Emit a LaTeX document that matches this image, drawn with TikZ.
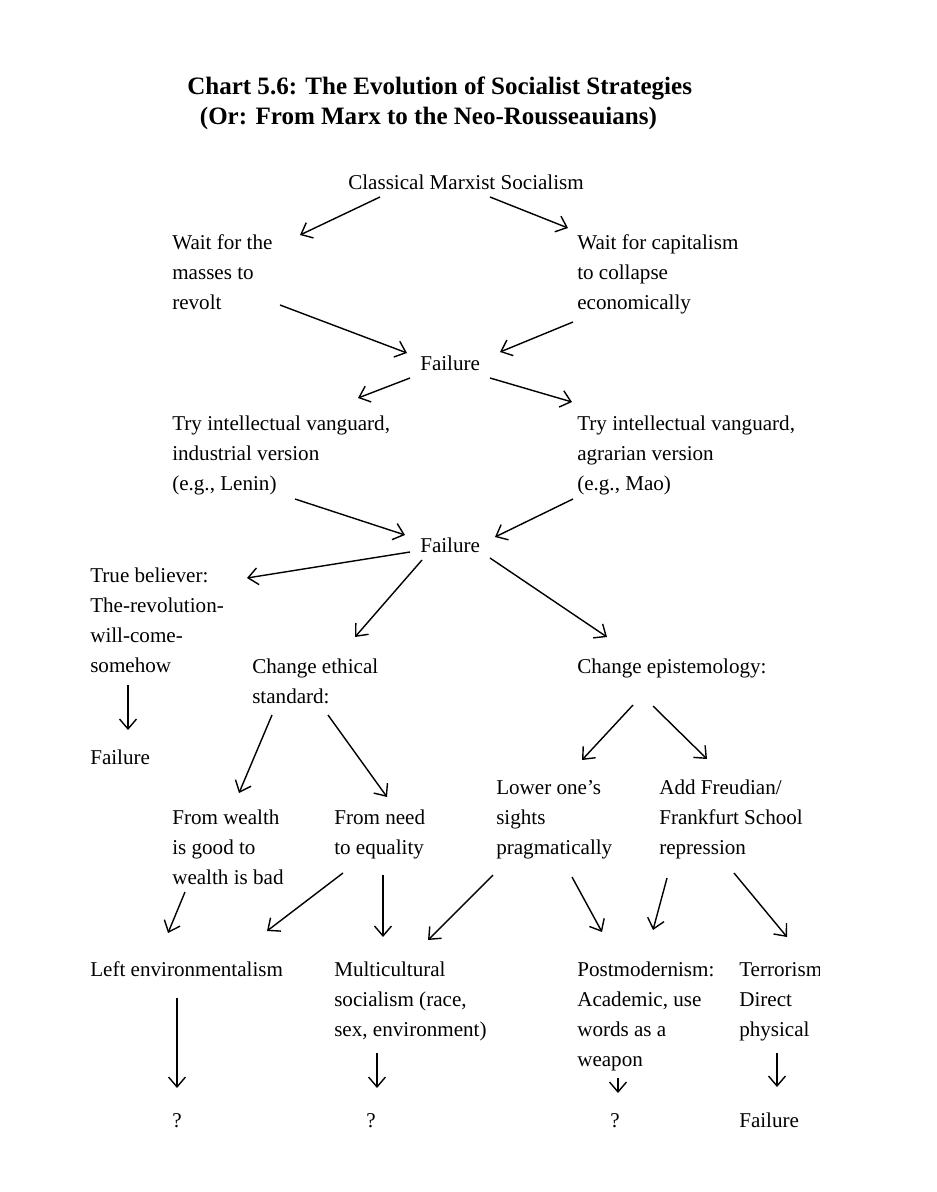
\documentclass[tikz,border=0pt]{standalone}
\usepackage{fontspec}
\setmainfont{Liberation Serif}
\usetikzlibrary{arrows.meta}
\newcommand{\txtlines}[1]{\begin{tabular}[t]{@{}l@{}}#1\end{tabular}}
\tikzset{
  txt/.style={anchor=base west, inner sep=0pt,
    font=\fontsize{15}{21.5}\selectfont},
  mid/.style={txt, anchor=base},
  ttl/.style={txt, font=\fontsize{17.8}{22}\selectfont\bfseries}
}
\begin{document}
\begin{tikzpicture}[x=0.025cm, y=-0.025cm]
      \useasboundingbox (0,0) rectangle (936,1192);
      \clip (0,0) rectangle (819,1192);
      \draw
        (187,94) node[ttl] (title){\txtlines{Chart 5.6: The Evolution of Socialist Strategies\\
          \hspace*{9pt}(Or: From Marx to the Neo-Rousseauians)}}
        (348,189) node[txt] (cms){Classical Marxist Socialism}
        (172,249) node[txt] (wm){\txtlines{Wait for the\\ masses to\\ revolt}}
        (577,249) node[txt] (wc){\txtlines{Wait for capitalism\\ to collapse\\ economically}}
        (420,370) node[txt] (f1){Failure}
        (172,430) node[txt] (tiv){\txtlines{Try intellectual vanguard,\\ industrial version\\ (e.g., Lenin)}}
        (577,430) node[txt] (tia){\txtlines{Try intellectual vanguard,\\ agrarian version\\ (e.g., Mao)}}
        (420,552) node[txt] (f2){Failure}
        (90,582) node[txt] (tb){\txtlines{True believer:\\ The-revolution-\\ will-come-\\ somehow}}
        (252,673) node[txt] (ces){\txtlines{Change ethical\\ standard:}}
        (577,673) node[txt] (cep){Change epistemology:}
        (90,764) node[txt] (f3){Failure}
        (496,794) node[txt] (low){\txtlines{Lower one's\\ sights\\ pragmatically}}
        (659,794) node[txt] (frd){\txtlines{Add Freudian/\\ Frankfurt School\\ repression}}
        (172,824) node[txt] (fw){\txtlines{From wealth\\ is good to\\ wealth is bad}}
        (334,824) node[txt] (fn){\txtlines{From need\\ to equality}}
        (90,976) node[txt] (le){Left environmentalism}
        (334,976) node[txt] (mc){\txtlines{Multicultural\\ socialism (race,\\ sex, environment)}}
        (577,976) node[txt] (pm){\txtlines{Postmodernism:\\ Academic, use\\ words as a\\ weapon}}
        (739,976) node[txt] (tr){\txtlines{Terrorism\\ Direct\\ physical}}
        (177,1127) node[mid] (q1){?}
        (371,1127) node[mid] (q2){?}
        (615,1127) node[mid] (q3){?}
        (739,1127) node[txt] (f4){Failure};
      \begin{scope}[line width=1pt, -{Straight Barb[length=7pt,width=12pt]}]
        \draw ([shift={(32,8)}]cms.base west) to ([shift={(128,-14)}]wm.base west);
        \draw ([shift={(142,8)}]cms.base west) to ([shift={(-9,-21)}]wc.base west);
        \draw ([shift={(108,56)}]wm.base west) to ([shift={(-13,-17)}]f1.base west);
        \draw ([shift={(-4,73)}]wc.base west) to ([shift={(80,-18)}]f1.base west);
        \draw ([shift={(-10,8)}]f1.base west) to ([shift={(186,-32)}]tiv.base west);
        \draw ([shift={(70,8)}]f1.base west) to ([shift={(-5,-28)}]tia.base west);
        \draw ([shift={(123,69)}]tiv.base west) to ([shift={(-15,-17)}]f2.base west);
        \draw ([shift={(-4,69)}]tia.base west) to ([shift={(75,-15)}]f2.base west);
        \draw ([shift={(-10,0)}]f2.base west) to ([shift={(157,-4)}]tb.base west);
        \draw ([shift={(2,8)}]f2.base west) to ([shift={(103,-36)}]ces.base west);
        \draw ([shift={(70,6)}]f2.base west) to ([shift={(30,-36)}]cep.base west);
        \draw ([shift={(38,103)}]tb.base west) to ([shift={(38,-34)}]f3.base west);
        \draw ([shift={(20,42)}]ces.base west) to ([shift={(67,-31)}]fw.base west);
        \draw ([shift={(76,42)}]ces.base west) to ([shift={(53,-27)}]fn.base west);
        \draw ([shift={(56,32)}]cep.base west) to ([shift={(86,-34)}]low.base west);
        \draw ([shift={(76,33)}]cep.base west) to ([shift={(48,-35)}]frd.base west);
        \draw ([shift={(13,68)}]fw.base west) to ([shift={(78,-43)}]le.base west);
        \draw ([shift={(9,49)}]fn.base west) to ([shift={(177,-45)}]le.base west);
        \draw ([shift={(49,51)}]fn.base west) to ([shift={(49,-39)}]mc.base west);
        \draw ([shift={(-3,81)}]low.base west) to ([shift={(94,-36)}]mc.base west);
        \draw ([shift={(76,83)}]low.base west) to ([shift={(25,-44)}]pm.base west);
        \draw ([shift={(8,84)}]frd.base west) to ([shift={(76,-46)}]pm.base west);
        \draw ([shift={(75,79)}]frd.base west) to ([shift={(48,-39)}]tr.base west);
        \draw ([shift={(87,22)}]le.base west) to ([shift={(0,-39)}]q1.base);
        \draw ([shift={(43,77)}]mc.base west) to ([shift={(6,-39)}]q2.base);
        \draw ([shift={(41,102)}]pm.base west) to ([shift={(3,-34)}]q3.base);
        \draw ([shift={(38,77)}]tr.base west) to ([shift={(38,-40)}]f4.base west);
      \end{scope}
    \end{tikzpicture}
\end{document}
